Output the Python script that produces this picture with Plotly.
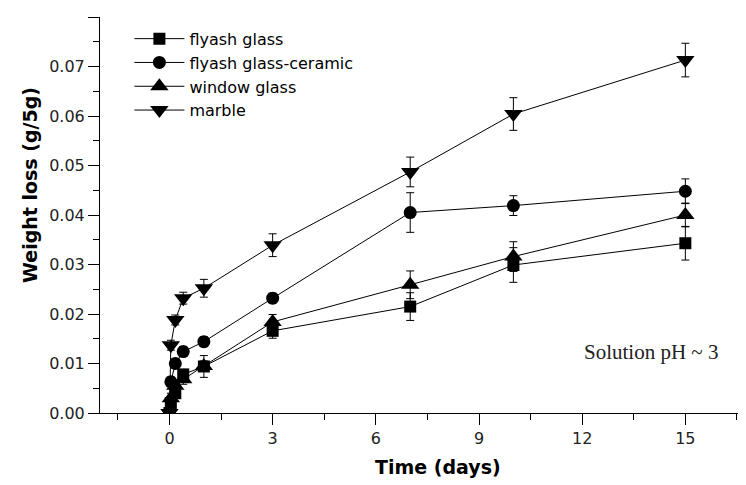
import plotly.graph_objects as go

# ---- data ----
time_days = [0, 0.04, 0.17, 0.4, 1, 3, 7, 10, 15]

flyash_glass = [0.0, 0.002, 0.004, 0.0078, 0.0094, 0.0166, 0.0215, 0.0299, 0.0343]
flyash_glass_err = [0.0, 0.001, 0.001, 0.001, 0.0022, 0.0015, 0.0028, 0.0035, 0.0034]

flyash_ceramic = [0.0, 0.0063, 0.0100, 0.0124, 0.0144, 0.0232, 0.0405, 0.0419, 0.0448]
flyash_ceramic_err = [0.0, 0.001, 0.001, 0.001, 0.001, 0.001, 0.004, 0.002, 0.0025]

window_glass = [0.0, 0.003, 0.0055, 0.0068, 0.0095, 0.0184, 0.0259, 0.0316, 0.0400]
window_glass_err = [0.0, 0.001, 0.001, 0.001, 0.001, 0.0015, 0.0028, 0.003, 0.0024]

marble = [0.0, 0.0137, 0.0188, 0.0232, 0.0252, 0.0339, 0.0487, 0.0604, 0.0713]
marble_err = [0.0, 0.001, 0.001, 0.0012, 0.0018, 0.0023, 0.003, 0.0033, 0.0034]

x_ticks = [0, 3, 6, 9, 12, 15]

series = [
    ("flyash glass", flyash_glass, flyash_glass_err, "square", 12),
    ("flyash glass-ceramic", flyash_ceramic, flyash_ceramic_err, "circle", 13),
    ("window glass", window_glass, window_glass_err, "triangle-up", 16),
    ("marble", marble, marble_err, "triangle-down", 16),
]

fig = go.Figure()
for name, vals, errs, sym, sz in series:
    fig.add_trace(go.Scatter(
        x=time_days, y=vals, name=name, mode="lines+markers",
        line=dict(color="black", width=1),
        marker=dict(symbol=sym, size=sz, color="black", line=dict(width=0)),
        error_y=dict(type="data", array=errs, visible=True, color="black",
                     thickness=1, width=4),
    ))

tick_font = dict(family="DejaVu Sans", size=16, color="#222")

fig.update_layout(
    width=746, height=485,
    margin=dict(l=92, r=15, t=9, b=80),
    plot_bgcolor="white", paper_bgcolor="white",
    showlegend=True,
    legend=dict(x=0.046, y=0.988, xanchor="left", yanchor="top",
                bgcolor="rgba(0,0,0,0)", borderwidth=0,
                font=dict(family="DejaVu Sans", size=16, color="black"),
                itemwidth=50, tracegroupgap=0),
    xaxis=dict(range=[-2.02, 16.56], tickvals=x_ticks,
               showgrid=False, zeroline=False, showline=True,
               linecolor="black", linewidth=1, ticks="outside",
               ticklen=11, tickcolor="black", tickwidth=1,
               tickfont=tick_font,
               minor=dict(tickvals=[-1.5, 1.5, 4.5, 7.5, 10.5, 13.5, 16.5],
                          ticks="outside", ticklen=6, tickcolor="black",
                          tickwidth=1, showgrid=False)),
    yaxis=dict(range=[0, 0.08], dtick=0.01, tick0=0, tickformat=".2f",
               showgrid=False, zeroline=False, showline=True,
               linecolor="black", linewidth=1, ticks="outside",
               ticklen=11, tickcolor="black", tickwidth=1,
               tickfont=tick_font,
               minor=dict(dtick=0.005, tick0=0, ticks="outside", ticklen=6,
                          tickcolor="black", tickwidth=1, showgrid=False)),
    annotations=[
        dict(text="<b>Weight loss (g/5g)</b>", xref="paper", yref="paper",
             x=-0.1095, y=0.5758, textangle=-90, showarrow=False,
             xanchor="center", yanchor="middle",
             font=dict(family="DejaVu Sans", size=19, color="black")),
        dict(text="<b>Time (days)</b>", xref="paper", yref="paper",
             x=0.529, y=-0.136, showarrow=False,
             xanchor="center", yanchor="middle",
             font=dict(family="DejaVu Sans", size=19, color="black")),
        dict(text="Solution pH ~ 3", xref="paper", yref="paper",
             x=0.970, y=0.154, showarrow=False,
             xanchor="right", yanchor="middle",
             font=dict(family="Liberation Serif", size=21, color="#222")),
    ],
)

fig.write_html("out.html")
